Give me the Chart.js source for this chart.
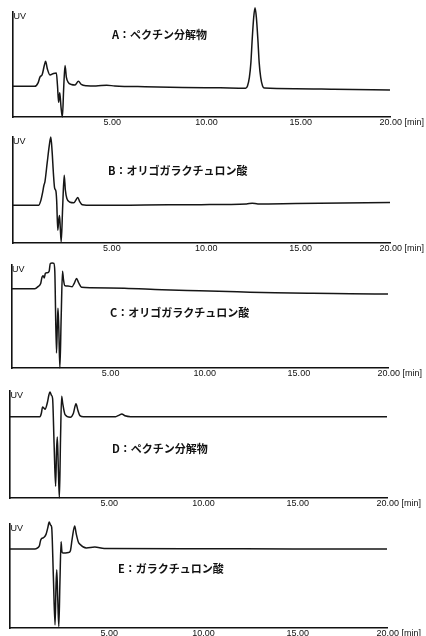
<!DOCTYPE html>
<html lang="ja">
<head>
<meta charset="utf-8">
<title>UV chromatograms</title>
<script src="https://cdn.jsdelivr.net/npm/chart.js@4/dist/chart.umd.min.js"></script>
<style>
  html, body { margin: 0; padding: 0; background: #fff; }
  body { width: 426px; height: 636px; position: relative; overflow: hidden; }
  canvas { position: absolute; left: 0; }
</style>
</head>
<body>
<canvas id="panel-a"></canvas>
<canvas id="panel-b"></canvas>
<canvas id="panel-c"></canvas>
<canvas id="panel-d"></canvas>
<canvas id="panel-e"></canvas>
<script>
// retention time axis (min)
const tickValues = [5, 10, 15, 20];
const tickLabels = ['5.00', '10.00', '15.00', '20.00 [min]'];

const titleA = 'A：ペクチン分解物';
const titleB = 'B：オリゴガラクチュロン酸';
const titleC = 'C：オリゴガラクチュロン酸';
const titleD = 'D：ペクチン分解物';
const titleE = 'E：ガラクチュロン酸';

// UV response, % of axis height
const timesA = [0, 1.15, 1.33, 1.43, 1.55, 1.66, 1.73, 1.82, 1.96, 2.15, 2.30, 2.36, 2.42, 2.48, 2.55, 2.62, 2.69, 2.76, 2.83, 2.93,
  3.10, 3.29, 3.47, 3.62, 3.90, 4.40, 4.97, 5.40, 7.0, 9.0, 11.0, 12.34, 12.44, 12.54, 12.62, 12.69, 12.77, 12.84, 12.91, 12.99,
  13.06, 13.14, 13.24, 13.34, 15.0, 17.0, 20.0];
const signalA = [29.2, 29.2, 32.5, 38, 40.5, 49, 53, 46, 40, 41.5, 42, 30, 14, 23, 9, 0, 28, 49, 38, 33,
  31, 30.5, 34, 31, 29.8, 29.6, 30.2, 29.6, 28.8, 28.2, 27.8, 27.5, 29.6, 37.7, 51.8, 74, 95, 104, 95, 74,
  51.8, 37.7, 29.6, 27.6, 27, 26.5, 25.7];

const timesB = [0, 1.38, 1.50, 1.60, 1.66, 1.72, 1.84, 1.95, 2.03, 2.10, 2.17, 2.23, 2.30, 2.34, 2.40, 2.45, 2.49, 2.53, 2.58, 2.66,
  2.74, 2.80, 2.88, 3.05, 3.25, 3.36, 3.46, 3.56, 3.70, 4.20, 7.0, 10.0, 12.4, 12.7, 13.0, 15.0, 17.5, 20.0];
const signalB = [35.5, 35.5, 40, 48, 54, 58, 76, 92, 100, 86, 65, 52, 49, 40, 12, 22, 26, 15, 1, 35,
  64, 50, 42, 38.5, 38, 40.5, 43, 39, 36, 35.5, 35.8, 36.2, 36.8, 37.6, 36.9, 37.3, 37.8, 38.3];

const timesC = [0, 1.24, 1.41, 1.55, 1.62, 1.68, 1.74, 1.80, 1.90, 2.00, 2.06, 2.16, 2.25, 2.30, 2.39, 2.44, 2.47, 2.51, 2.57, 2.64,
  2.71, 2.76, 2.83, 3.00, 3.22, 3.34, 3.46, 3.56, 3.72, 4.20, 6.0, 8.0, 10.0, 12.0, 14.0, 16.0, 18.0, 20.0];
const signalC = [77, 77, 79, 82, 88, 89.5, 87.5, 92, 92.5, 94, 101.5, 102, 101.5, 94, 14.5, 45, 58, 40, 0, 50,
  94, 86, 80, 79.5, 79, 82.5, 87, 83, 78.5, 78, 77.5, 76, 75, 74, 73, 72.5, 72.2, 71.8];

const timesD = [0, 1.59, 1.66, 1.73, 1.80, 1.86, 1.98, 2.06, 2.12, 2.20, 2.26, 2.34, 2.42, 2.47, 2.51, 2.56, 2.62, 2.68, 2.74, 2.80,
  2.92, 3.20, 3.36, 3.50, 3.60, 3.71, 3.90, 5.60, 5.80, 5.93, 6.10, 6.40, 10.0, 15.0, 20.0];
const signalD = [76, 76, 79, 85, 84, 83, 89, 96, 99, 96, 93, 50, 11, 45, 57, 30, 0, 55, 95, 88,
  78, 75.5, 79, 88, 82, 77, 76, 76, 77.5, 78.5, 76.8, 76, 76, 76, 76];

const timesE = [0, 1.33, 1.50, 1.56, 1.62, 1.68, 1.79, 1.91, 2.00, 2.08, 2.15, 2.21, 2.30, 2.39, 2.44, 2.48, 2.53, 2.59, 2.65, 2.71,
  2.75, 2.80, 3.10, 3.20, 3.30, 3.43, 3.52, 3.62, 3.71, 4.05, 4.50, 5.00, 10.0, 15.0, 20.0];
const signalE = [76, 76, 77.5, 79, 84, 86, 87, 90, 96, 102, 99, 97, 50, 3, 40, 56, 30, 1.5, 45, 83,
  74, 72, 72.5, 74, 86, 98, 90, 83, 80.5, 77, 77.8, 76.5, 76.2, 76, 76];

// page placement of each panel (canvas top/height, plot box, title anchor)
const panels = [
  { id: 'panel-a', title: titleA, times: timesA, signal: signalA,
    box: { top: 0, height: 132, left: 13, right: 390, plotTop: 12, plotBottom: 117, titleX: 112, titleY: 35 } },
  { id: 'panel-b', title: titleB, times: timesB, signal: signalB,
    box: { top: 126, height: 132, left: 12.5, right: 390, plotTop: 137, plotBottom: 243, titleX: 108, titleY: 170.5 } },
  { id: 'panel-c', title: titleC, times: timesC, signal: signalC,
    box: { top: 253, height: 130, left: 11.5, right: 388, plotTop: 265, plotBottom: 368, titleX: 110, titleY: 312.5 } },
  { id: 'panel-d', title: titleD, times: timesD, signal: signalD,
    box: { top: 379, height: 134, left: 10, right: 387, plotTop: 391, plotBottom: 498, titleX: 112, titleY: 449 } },
  { id: 'panel-e', title: titleE, times: timesE, signal: signalE,
    box: { top: 510, height: 126, left: 10, right: 387, plotTop: 524, plotBottom: 628, titleX: 118, titleY: 569 } },
];

const panelText = {
  id: 'panelText',
  afterDraw(chart, args, opts) {
    const { ctx, chartArea } = chart;
    ctx.save();
    ctx.fillStyle = '#111';
    ctx.textBaseline = 'top';
    ctx.textAlign = 'left';
    ctx.font = '9px "Liberation Sans", Arial, sans-serif';
    ctx.fillText('UV', chartArea.left + 0.5, chartArea.top + 0.5);
    ctx.textBaseline = 'middle';
    ctx.font = 'bold 11px "Noto Sans CJK JP", sans-serif';
    ctx.fillText(opts.title, opts.x, opts.y);
    ctx.restore();
  },
};

const buildPanel = (panel) => {
  const canvas = document.getElementById(panel.id);
  const box = panel.box;
  canvas.width = 426;
  canvas.height = box.height;
  canvas.style.top = box.top + 'px';
  const xAxisHeight = box.height - (box.plotBottom - box.top);

  new Chart(canvas, {
    type: 'line',
    data: {
      datasets: [
        {
          data: panel.times.map((t, i) => ({ x: t, y: panel.signal[i] })),
          borderColor: '#161616',
          borderWidth: 1.5,
          pointRadius: 0,
          fill: false,
          cubicInterpolationMode: 'monotone',
          clip: false,
        },
      ],
    },
    options: {
      responsive: false,
      animation: false,
      devicePixelRatio: 1,
      layout: {
        padding: { top: box.plotTop - box.top, left: box.left, right: 426 - box.right, bottom: 0 },
      },
      plugins: {
        legend: { display: false },
        tooltip: { enabled: false },
        panelText: { title: panel.title, x: box.titleX, y: box.titleY - box.top },
      },
      scales: {
        x: {
          type: 'linear',
          min: 0,
          max: 20,
          grid: { display: false, drawTicks: false },
          border: { display: true, color: '#111', width: 1.6 },
          afterBuildTicks: (scale) => {
            scale.ticks = tickValues.map((v) => ({ value: v }));
          },
          afterFit: (scale) => {
            scale.height = xAxisHeight;
            scale.paddingLeft = 0;
            scale.paddingRight = 0;
          },
          ticks: {
            padding: 0,
            labelOffset: 5,
            maxRotation: 0,
            autoSkip: false,
            color: '#111',
            font: { family: '"Liberation Sans", Arial, sans-serif', size: 9 },
            // the last label sits a little right of its tick in the print
            callback: (value, index) =>
              index === tickLabels.length - 1 ? '\u2002\u2002\u2002' + tickLabels[index] : tickLabels[index],
          },
        },
        y: {
          min: 0,
          max: 100,
          grid: { display: false, drawTicks: false },
          border: { display: true, color: '#111', width: 1.6 },
          ticks: { display: false },
          afterFit: (scale) => {
            scale.width = 0;
          },
        },
      },
    },
    plugins: [panelText],
  });
};

panels.forEach(buildPanel);
</script>
</body>
</html>
